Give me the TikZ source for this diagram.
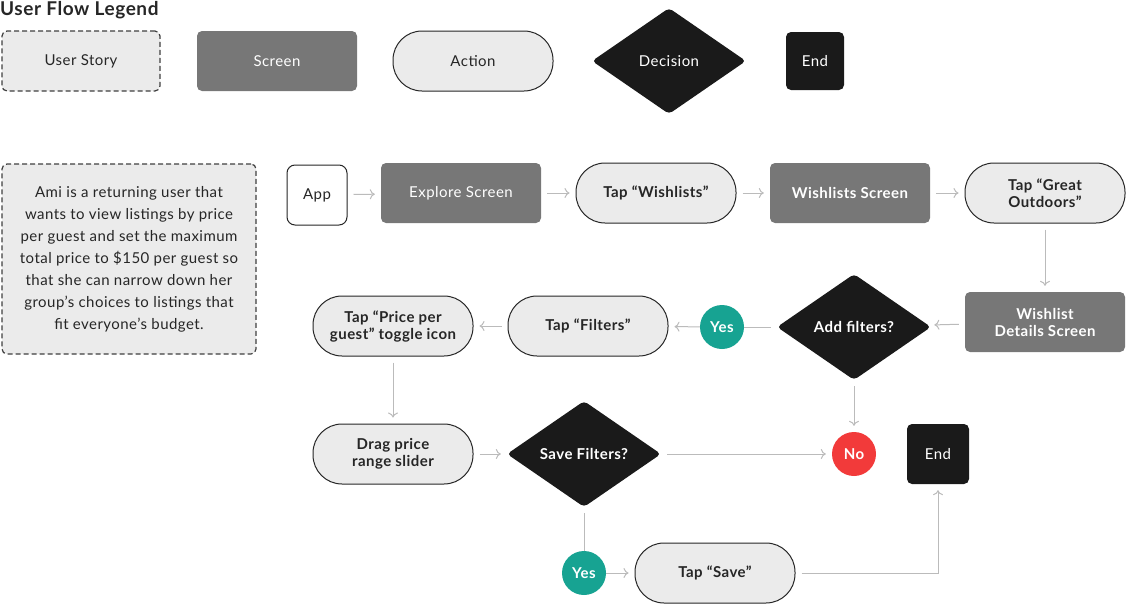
\documentclass[tikz,border=0pt]{standalone}
\usepackage{fontspec}
\setmainfont{Lato}[LetterSpace=3]
\usetikzlibrary{shapes.geometric,arrows.meta}
\definecolor{lg}{HTML}{EBEBEB}
\definecolor{scr}{HTML}{777777}
\definecolor{dk}{HTML}{1A1A1A}
\definecolor{ar}{HTML}{BBBBBB}
\definecolor{tl}{HTML}{17A392}
\definecolor{rd}{HTML}{F23A3A}
\begin{document}
\begin{tikzpicture}[x=1pt,y=-1pt,
 every node/.style={font=\fontsize{15}{17}\selectfont, text=black!85, align=center, inner sep=0pt},
 bf/.style={font=\fontsize{15}{17}\selectfont\bfseries},
 story/.style={draw=black!75, dashed, dash pattern=on 5pt off 3pt, line width=1.2pt, fill=lg, rounded corners=5pt},
 screen/.style={fill=scr, text=white, rounded corners=5pt, minimum width=160pt, minimum height=60pt},
 action/.style={draw=black!85, line width=1pt, fill=lg, rounded corners=29pt, minimum width=160pt, minimum height=60pt},
 dec/.style={diamond, fill=dk, text=white, minimum width=154pt, minimum height=106pt, aspect=1.45, rounded corners=4pt},
 endn/.style={fill=dk, text=white, rounded corners=5pt, minimum width=60pt, minimum height=60pt},
 circ/.style={circle, minimum size=44pt, text=white, font=\fontsize{15}{17}\selectfont\bfseries},
 arr/.style={draw=ar, line width=1pt, -{To[length=5pt,width=10pt]}, shorten >=6pt, shorten <=6pt},
 ln/.style={draw=ar, line width=1pt, shorten <=6pt}]
\useasboundingbox (0,0) rectangle (1127,605);
\node[anchor=west, font=\fontsize{19}{20}\selectfont\bfseries] (title) at (0,10) {User Flow Legend};
\node[story, minimum width=158pt, minimum height=60pt] (lstory) at (81,61) {User Story};
\node[screen] (lscreen) at (277,61) {Screen};
\node[action] (laction) at (473,61) {Action};
\node[dec] (ldec) at (669,61) {Decision};
\node[endn, minimum width=58pt, minimum height=58pt] (lend) at (815,61) {End};

\node[story, minimum width=254pt, minimum height=190pt, font=\fontsize{15}{22}\selectfont] (story) at (129,259) {Ami is a returning user that\\wants to view listings by price\\per guest and set the maximum\\total price to \$150 per guest so\\that she can narrow down her\\group’s choices to listings that\\fit everyone’s budget.};
\node[draw=black!85, line width=1pt, fill=white, rounded corners=8pt, minimum width=60pt, minimum height=60pt] (app) at (317,195) {App};
\node[screen] (explore) at (461,193) {Explore Screen};
\node[action, bf] (tapw) at (656,193) {Tap “Wishlists”};
\node[screen, bf] (ws) at (850,193) {Wishlists Screen};
\node[action, bf] (tgo) at (1045,193) {Tap “Great\\Outdoors”};
\node[screen, bf] (wd) at (1045,322) {Wishlist\\Details Screen};
\node[dec, bf] (add) at (854,327) {Add filters?};
\node[circ, fill=tl] (yes1) at (722,327) {Yes};
\node[action, bf] (tapf) at (588,326) {Tap “Filters”};
\node[action, bf] (tapp) at (393,326) {Tap “Price per\\guest” toggle icon};
\node[action, bf] (drag) at (393,454) {Drag price\\range slider};
\node[dec, bf] (save) at (584,454) {Save Filters?};
\node[circ, fill=rd] (no) at (854,454) {No};
\node[endn, minimum width=62pt] (end) at (938,454) {End};
\node[circ, fill=tl] (yes2) at (584,573) {Yes};
\node[action, bf] (taps) at (715,573) {Tap “Save”};
\coordinate (corner) at (938,573);

\draw[arr] (app) -- (explore);
\draw[arr] (explore) -- (tapw);
\draw[arr] (tapw) -- (ws);
\draw[arr] (ws) -- (tgo);
\draw[arr] (tgo) -- (wd);
\draw[arr] (wd) -- (add);
\draw[ln, shorten >=0pt] (add.west) -- (yes1);
\draw[arr, shorten <=0pt] (yes1) -- (tapf);
\draw[arr] (tapf) -- (tapp);
\draw[arr] (tapp) -- (drag);
\draw[arr] (drag) -- (save);
\draw[arr] (save) -- (no);
\draw[arr] (add) -- (no);
\draw[ln, shorten >=0pt] (save.south) -- (yes2);
\draw[arr, shorten <=0pt] (yes2) -- (taps);
\draw[arr] (taps.east) -- (corner) -- (end.south);
\end{tikzpicture}
\end{document}
